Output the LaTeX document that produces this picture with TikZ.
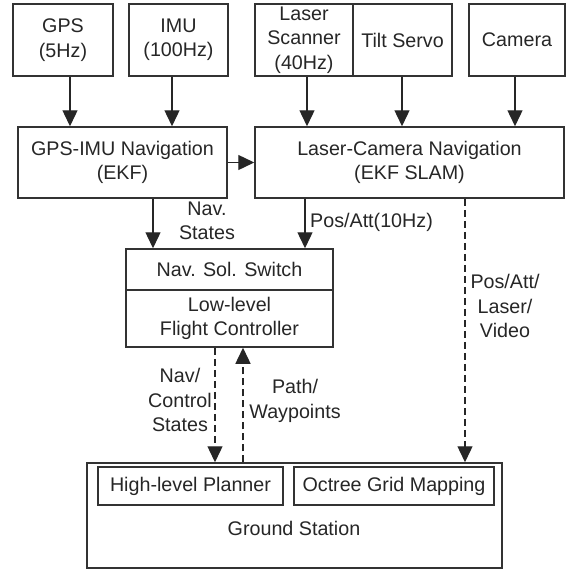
\documentclass[tikz,border=0pt]{standalone}
\usepackage{fontspec}
\setmainfont{Liberation Sans}
\usetikzlibrary{arrows.meta}
\begin{document}
\begin{tikzpicture}[x=1pt,y=-1pt,
  font=\fontsize{19.7}{24.5}\selectfont,
  box/.style={draw=black!80, line width=1.5pt, text=black!85, align=center, inner sep=0pt},
  arr/.style={-{Triangle[length=16pt,width=15pt]}, line width=1.4pt, draw=black!85},
  darr/.style={arr, dash pattern=on 7pt off 4pt},
  lbl/.style={text=black!85, align=center, inner sep=0pt}]
\useasboundingbox (0,0) rectangle (567,570);

% sensors
\node[box, minimum width=100pt, minimum height=72pt] (gps) at (63,40) {GPS\\(5Hz)};
\node[box, minimum width=99pt, minimum height=72pt] (imu) at (178.5,40) {IMU\\(100Hz)};
\node[box, minimum width=98pt, minimum height=72pt] (laser) at (304,40) {Laser\\Scanner\\(40Hz)};
\node[box, minimum width=99pt, minimum height=72pt] (tilt) at (402.5,40) {Tilt Servo};
\node[box, minimum width=96pt, minimum height=72pt] (camera) at (517,40) {Camera};

% navigation filters
\node[box, minimum width=209pt, minimum height=71pt] (gpsimu) at (122.5,162.5) {GPS-IMU Navigation\\(EKF)};
\node[box, minimum width=309pt, minimum height=71pt] (lcnav) at (409.5,162.5) {Laser-Camera Navigation\\(EKF SLAM)};

% onboard switch and controller
\node[box, minimum width=207pt, minimum height=41pt] (switch) at (229.5,269.5) {Nav. Sol. Switch};
\node[box, minimum width=207pt, minimum height=57pt] (flc) at (229.5,318.5) {Low-level\\Flight Controller};

% ground station
\node[box, minimum width=415pt, minimum height=105pt] (ground) at (294.5,515.5) {};
\node[box, minimum width=185pt, minimum height=38pt] (planner) at (190.5,486) {High-level Planner};
\node[box, minimum width=200pt, minimum height=38pt] (octree) at (394,486) {Octree Grid Mapping};
\node[lbl] (gslabel) at (294,528) {Ground Station};

% connector columns
\coordinate (xgps) at (70,0);
\coordinate (ximu) at (172,0);
\coordinate (xlaser) at (307,0);
\coordinate (xtilt) at (402,0);
\coordinate (xcam) at (515,0);
\coordinate (xnav) at (153,0);
\coordinate (xpos) at (305,0);
\coordinate (xdown) at (215,0);
\coordinate (xup) at (243,0);
\coordinate (xlink) at (465,0);

\draw[arr] (gps.south -| xgps) -- (gpsimu.north -| xgps);
\draw[arr] (imu.south -| ximu) -- (gpsimu.north -| ximu);
\draw[arr] (laser.south -| xlaser) -- (lcnav.north -| xlaser);
\draw[arr] (tilt.south -| xtilt) -- (lcnav.north -| xtilt);
\draw[arr] (camera.south -| xcam) -- (lcnav.north -| xcam);
\draw[arr] (gpsimu.east) -- (lcnav.west);
\draw[arr] (gpsimu.south -| xnav) -- (switch.north -| xnav);
\draw[arr] (lcnav.south -| xpos) -- (switch.north -| xpos);
\draw[darr] (flc.south -| xdown) -- (ground.north -| xdown);
\draw[darr] (ground.north -| xup) -- (flc.south -| xup);
\draw[darr] (lcnav.south -| xlink) -- (ground.north -| xlink);

% connector labels
\node[lbl] (navstates) at (207,221) {Nav.\\States};
\node[lbl, anchor=west] (posatt) at (310,222) {Pos/Att(10Hz)};
\node[lbl] (navctrl) at (180,400) {Nav/\\Control\\States};
\node[lbl] (pathwp) at (295,401) {Path/\\Waypoints};
\node[lbl] (linklbl) at (505,306) {Pos/Att/\\Laser/\\Video};
\end{tikzpicture}
\end{document}
